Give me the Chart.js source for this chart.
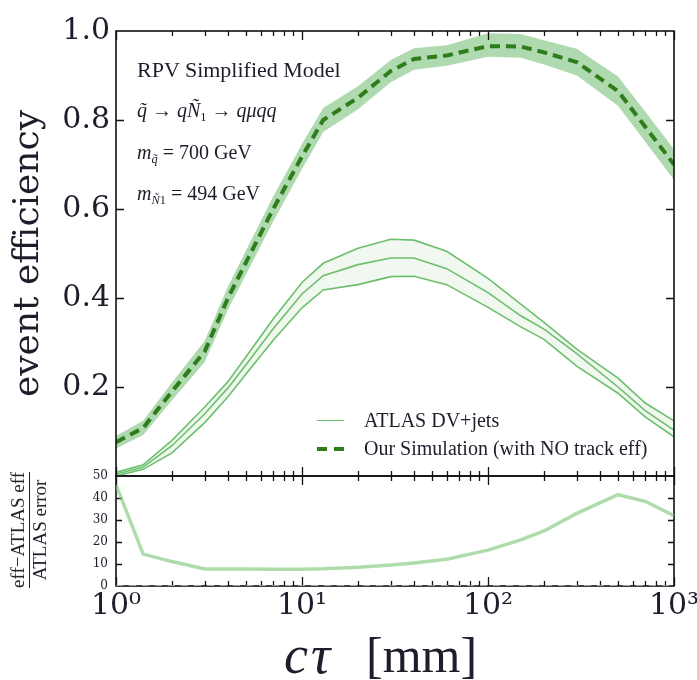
<!DOCTYPE html>
<html><head><meta charset="utf-8">
<script src="https://cdn.jsdelivr.net/npm/chart.js@4.4.0/dist/chart.umd.min.js"></script>
<style>
html,body{margin:0;padding:0;background:#fff;width:697px;height:680px;overflow:hidden;}
#wrap{position:relative;width:697px;height:680px;}
canvas{position:absolute;left:0;top:0;}
.txt{position:absolute;font-family:'Liberation Serif',serif;color:#1d1d2b;white-space:nowrap;line-height:1;}
.txt i{font-style:italic;}
.txt sub{font-size:62%;vertical-align:baseline;position:relative;top:0.3em;}
.lg{position:absolute;}
</style></head><body>
<div id="wrap">
<canvas id="bot" width="697" height="680"></canvas>
<canvas id="top" width="697" height="480"></canvas>

<div class="txt" style="left:137px;top:59px;font-size:22px">RPV Simplified Model</div>
<div class="txt" style="left:137px;top:100px;font-size:20px"><i>q̃</i> → <i>q</i><i>Ñ</i><sub>1</sub> → <i>qμqq</i></div>
<div class="txt" style="left:137px;top:142px;font-size:20px"><i>m</i><sub><i>q̃</i></sub> = 700 GeV</div>
<div class="txt" style="left:137px;top:183px;font-size:20px"><i>m</i><sub><i>Ñ</i>1</sub> = 494 GeV</div>

<div class="lg" style="left:317px;top:420px;width:27px;height:0;border-top:1.5px solid #6cbf6c"></div>
<div class="lg" style="left:317px;top:447px;width:10px;height:4px;background:#2e7d1a"></div>
<div class="lg" style="left:334px;top:447px;width:10px;height:4px;background:#2e7d1a"></div>
<div class="txt" style="left:364px;top:410px;font-size:20px">ATLAS DV+jets</div>
<div class="txt" style="left:364px;top:438px;font-size:20px">Our Simulation (with NO track eff)</div>

<div class="txt" style="left:29px;top:530px;transform:translate(-50%,-50%) rotate(-90deg);font-size:19px;text-align:center;line-height:18px">
  <div>eff−ATLAS eff</div>
  <div style="border-top:1.5px solid #1d1d2b;margin-top:2px;padding-top:1px">ATLAS error</div>
</div>

<div class="txt" style="left:284px;top:628px;font-size:54px;letter-spacing:3px"><i>cτ</i></div>
<div class="txt" style="left:366px;top:630px;font-size:50px">[mm]</div>
</div>

<script>
// ---------- data ----------
const ctValues   = [1, 1.4, 2, 3, 4, 5, 7, 10, 13, 20, 30, 40, 60, 100, 150, 200, 300, 500, 700, 1000];
const simEff     = [0.076, 0.108, 0.19, 0.28, 0.40, 0.48, 0.60, 0.718, 0.80, 0.85, 0.91, 0.937, 0.945, 0.966, 0.965, 0.952, 0.93, 0.865, 0.785, 0.70];
const simHigh    = [0.090, 0.124, 0.210, 0.304, 0.426, 0.507, 0.628, 0.746, 0.827, 0.876, 0.935, 0.961, 0.968, 0.995, 0.993, 0.979, 0.960, 0.898, 0.819, 0.734];
const simLow     = [0.062, 0.092, 0.170, 0.256, 0.374, 0.453, 0.572, 0.690, 0.773, 0.824, 0.885, 0.913, 0.922, 0.942, 0.940, 0.925, 0.900, 0.832, 0.751, 0.666];
const atlasEff   = [0.004, 0.020, 0.068, 0.140, 0.198, 0.250, 0.331, 0.409, 0.450, 0.475, 0.490, 0.490, 0.466, 0.412, 0.360, 0.330, 0.275, 0.200, 0.147, 0.103];
const atlasHigh  = [0.008, 0.025, 0.080, 0.155, 0.212, 0.268, 0.353, 0.435, 0.478, 0.512, 0.532, 0.530, 0.505, 0.444, 0.386, 0.345, 0.285, 0.220, 0.164, 0.124];
const atlasLow   = [0.000, 0.015, 0.052, 0.120, 0.178, 0.229, 0.305, 0.378, 0.418, 0.430, 0.448, 0.449, 0.430, 0.379, 0.335, 0.307, 0.247, 0.186, 0.133, 0.088];
const pullValues = [46, 14.5, 11.1, 7.7, 7.7, 7.7, 7.6, 7.6, 7.8, 8.5, 9.5, 10.5, 12.2, 16.3, 21, 25, 33, 41.5, 38.5, 32];
const refX = [1, 1000];
const refY = [0, 0];
const xTickValues = [1, 10, 100, 1000];
const xTickLabels = ['10⁰', '10¹', '10²', '10³'];

const pts = (xs, ys) => xs.map((x, i) => ({x: x, y: ys[i]}));

// minor log ticks (axis decoration)
const xMinorTicks = [];
[1, 10, 100].forEach(d => { for (let k = 2; k <= 9; k++) xMinorTicks.push(k * d); });

function drawFrame(chart, o) {
  const {ctx, chartArea: a, scales: {x, y}} = chart;
  ctx.save();
  ctx.strokeStyle = '#111';
  ctx.lineWidth = 1.6;
  ctx.strokeRect(a.left, a.top, a.right - a.left, a.bottom - a.top);
  ctx.lineWidth = 1.3;
  ctx.beginPath();
  const xt = (v, len) => {
    const px = Math.round(x.getPixelForValue(v)) + 0.5;
    ctx.moveTo(px, a.top); ctx.lineTo(px, a.top + len);
    ctx.moveTo(px, a.bottom); ctx.lineTo(px, a.bottom - len);
  };
  xTickValues.forEach(v => xt(v, o.majorLen));
  xMinorTicks.forEach(v => xt(v, o.minorLen));
  o.yTicks.forEach(v => {
    const py = Math.round(y.getPixelForValue(v)) + 0.5;
    ctx.moveTo(a.left, py); ctx.lineTo(a.left + o.yLen, py);
    ctx.moveTo(a.right, py); ctx.lineTo(a.right - o.yLen, py);
  });
  ctx.stroke();
  ctx.restore();
}
const frameTicks = {
  id: 'frameTicks',
  beforeDatasetsDraw(chart, args, o) { if (o.under) drawFrame(chart, o); },
  afterDatasetsDraw(chart, args, o) { if (!o.under) drawFrame(chart, o); }
};

const textColor = '#1d1d2b';
const atlasColor = '#6cbf6c';

new Chart(document.getElementById('top'), {
  type: 'line',
  data: {
    datasets: [
      {data: pts(ctValues, simEff), borderColor: '#2e7d1a', borderWidth: 4, borderDash: [10, 6], fill: false},
      {data: pts(ctValues, simHigh), borderColor: 'transparent', borderWidth: 0, backgroundColor: 'rgba(95,182,95,0.5)', fill: '+1'},
      {data: pts(ctValues, simLow), borderColor: 'transparent', borderWidth: 0, fill: false},
      {data: pts(ctValues, atlasEff), borderColor: atlasColor, borderWidth: 1.6, fill: false},
      {data: pts(ctValues, atlasHigh), borderColor: atlasColor, borderWidth: 1.6, backgroundColor: 'rgba(108,191,108,0.1)', fill: '+1'},
      {data: pts(ctValues, atlasLow), borderColor: atlasColor, borderWidth: 1.6, fill: false}
    ]
  },
  options: {
    responsive: false, animation: false, devicePixelRatio: 1,
    layout: {padding: {left: 0, right: 23, top: 31, bottom: 4}},
    elements: {point: {radius: 0}, line: {tension: 0}},
    plugins: {legend: {display: false}, tooltip: {enabled: false},
      frameTicks: {under: false, majorLen: 9, minorLen: 5, yLen: 8, yTicks: [0.2, 0.4, 0.6, 0.8]}},
    scales: {
      x: {type: 'logarithmic', min: 1, max: 1000, ticks: {display: false}, grid: {display: false, drawTicks: false}, border: {display: false},
          afterFit(s) { s.height = 0; s.paddingLeft = 0; s.paddingRight = 0; }},
      y: {min: 0, max: 1,
          ticks: {stepSize: 0.2, callback: v => (v < 0.01 ? '' : v.toFixed(1)), font: {family: 'DejaVu Serif', size: 30}, color: textColor, padding: 6},
          grid: {display: false, drawTicks: false}, border: {display: false},
          title: {display: true, text: 'event efficiency', font: {family: 'DejaVu Serif', size: 36}, color: textColor, padding: {top: 7, bottom: 0}},
          afterFit(s) { s.width = 116; s.paddingTop = 0; s.paddingBottom = 0; }}
    }
  },
  plugins: [frameTicks]
});

new Chart(document.getElementById('bot'), {
  type: 'line',
  data: {
    datasets: [
      {data: pts(ctValues, pullValues), borderColor: 'rgba(120,196,115,0.6)', borderWidth: 3.5, fill: false},
      {data: pts(refX, refY), borderColor: '#bdbdbd', borderWidth: 1.6, borderDash: [7, 6], fill: false}
    ]
  },
  options: {
    responsive: false, animation: false, devicePixelRatio: 1,
    layout: {padding: {left: 0, right: 23, top: 476, bottom: 0}},
    elements: {point: {radius: 0}, line: {tension: 0}},
    plugins: {legend: {display: false}, tooltip: {enabled: false},
      frameTicks: {under: true, majorLen: 9, minorLen: 5, yLen: 6, yTicks: [10, 20, 30, 40]}},
    scales: {
      x: {type: 'logarithmic', min: 1, max: 1000,
          afterBuildTicks(s) { s.ticks = xTickValues.map(v => ({value: v, major: true})); },
          ticks: {callback: (v, i) => xTickLabels[i], font: {family: 'DejaVu Serif', size: 30}, color: textColor, padding: 2, maxRotation: 0, autoSkip: false},
          grid: {display: false, drawTicks: false}, border: {display: false},
          afterFit(s) { s.height = 680 - 586; s.paddingLeft = 0; s.paddingRight = 0; }},
      y: {min: 0, max: 50,
          ticks: {stepSize: 10, font: {family: 'DejaVu Serif', size: 12}, color: textColor, padding: 8},
          grid: {display: false, drawTicks: false}, border: {display: false},
          afterFit(s) { s.width = 116; s.paddingTop = 0; s.paddingBottom = 0; }}
    }
  },
  plugins: [frameTicks]
});
</script>
</body></html>
